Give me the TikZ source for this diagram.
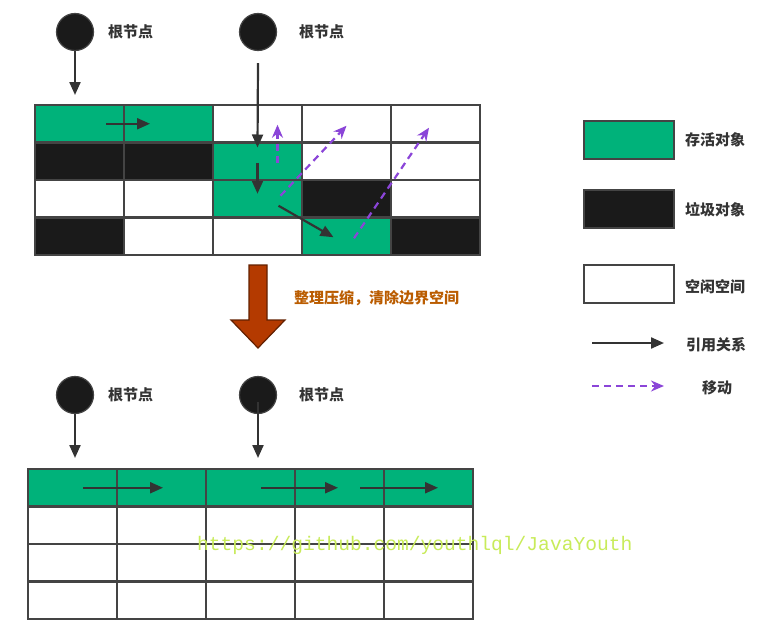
\documentclass[tikz,border=0pt]{standalone}
\usepackage{fontspec}
\usepackage{xcolor}
\usetikzlibrary{arrows.meta}
\newfontfamily\cjk{Noto Sans CJK SC}
\newfontfamily\wmfont{Liberation Mono}

\definecolor{live}{HTML}{00B27A}
\definecolor{dead}{HTML}{1A1A1A}
\definecolor{edge}{HTML}{444444}
\definecolor{arrowc}{HTML}{333333}
\definecolor{movec}{HTML}{8B45D8}
\definecolor{txt}{HTML}{333333}
\definecolor{bigfill}{HTML}{B43A00}
\definecolor{bigtext}{HTML}{BA5C00}
\definecolor{wm}{HTML}{C8EB5A}

\tikzset{
    cell/.style={draw=edge,line width=2.4pt,minimum width=89pt,minimum height=37.5pt,inner sep=0pt,outer sep=0pt},
    keybox/.style={draw=edge,line width=2.4pt,minimum width=90pt,minimum height=38pt,inner sep=0pt},
    root/.style={circle,fill=dead,draw=edge,line width=1.2pt,minimum size=37pt,inner sep=0pt},
    cjklabel/.style={font=\cjk\bfseries\fontsize{15}{18}\selectfont,text=txt,inner sep=0pt,anchor=west},
    ref/.style={draw=arrowc,line width=2.2pt,-{Triangle[length=13pt,width=11pt]}},
    move/.style={draw=movec,line width=2.2pt,dash pattern=on 7pt off 5pt,-{Stealth[length=13pt,width=11pt]}}
}

\begin{document}
\begin{tikzpicture}[x=1pt,y=-1pt]
    \useasboundingbox (0,0) rectangle (765,626);

    % heap before compaction
    \foreach \row [count=\r from 0] in {{live,live,white,white,white},{dead,dead,live,white,white},{white,white,live,dead,white},{dead,white,white,live,dead}}
        \foreach \c [count=\k from 0] in \row
            \node[cell,fill=\c] (t\r\k) at (79.5+89*\k,123.75+37.5*\r) {};

    \node[root] (root1) at (75,32) {};
    \node[root] (root2) at (258,32) {};
    \node[cjklabel] (lab1) at (108,32) {根节点};
    \node[cjklabel] (lab2) at (299,32) {根节点};

    \draw[ref] (root1.south) -- ([yshift=10pt]root1.south |- t00.north);
    \draw[ref] ([yshift=-12pt]root2.south) -- ([yshift=-5pt]t12.north);
    \draw[ref] ([xshift=-18pt]t00.east) -- ([xshift=26pt]t01.west);
    \draw[ref] ([yshift=-1.5pt]t12.center) -- ([yshift=5pt]t22.center);
    \draw[ref] ([shift={(21pt,-7pt)}]t22.center) -- ([xshift=-13pt,yshift=-1pt]t33.center);

    \draw[move] ([xshift=20pt,yshift=-1.5pt]t12.center) -- ([xshift=20pt,yshift=-1pt]t02.center);
    \draw[move] ([shift={(23pt,3pt)}]t22.center) -- ([yshift=-2pt]t03.center);
    \draw[move] ([shift={(7.5pt,-2pt)}]t33.center) -- ([shift={(-6.5pt,-4pt)}]t04.center);

    % compaction
    \draw[draw=bigfill!55!black,line width=1.2pt,fill=bigfill] (249,265) -- (267,265) -- (267,320) -- (285,320) -- (258,348) -- (231,320) -- (249,320) -- cycle;
    \node[cjklabel,text=bigtext] (step) at (294,298) {整理压缩，清除边界空间};

    % heap after compaction
    \foreach \row [count=\r from 0] in {{live,live,live,live,live},{white,white,white,white,white},{white,white,white,white,white},{white,white,white,white,white}}
        \foreach \c [count=\k from 0] in \row
            \node[cell,fill=\c] (b\r\k) at (72.5+89*\k,487.75+37.5*\r) {};

    \node[root] (root3) at (75,395) {};
    \node[root] (root4) at (258,395) {};
    \node[cjklabel] (lab3) at (108,395) {根节点};
    \node[cjklabel] (lab4) at (299,395) {根节点};

    \draw[ref] (root3.south) -- ([yshift=11pt]root3.south |- b00.north);
    \draw[ref] ([yshift=-7pt]root4.center) -- ([yshift=11pt]root4.center |- b02.north);
    \draw[ref] ([xshift=10.5pt]b00.center) -- ([xshift=1.5pt]b01.center);
    \draw[ref] ([xshift=10.5pt]b02.center) -- ([xshift=-1.5pt]b03.center);
    \draw[ref] ([xshift=20.5pt]b03.center) -- ([xshift=9.5pt]b04.center);

    % legend
    \node[keybox,fill=live] (keylive) at (629,140) {};
    \node[keybox,fill=dead] (keydead) at (629,209) {};
    \node[keybox,fill=white] (keyfree) at (629,284) {};
    \node[cjklabel] (txtlive) at (685,140) {存活对象};
    \node[cjklabel] (txtdead) at (685,210) {垃圾对象};
    \node[cjklabel] (txtfree) at (685,287) {空闲空间};
    \coordinate (refA) at (592,343);
    \coordinate (refB) at (664,343);
    \coordinate (movA) at (592,386);
    \coordinate (movB) at (664,386);
    \draw[ref] (refA) -- (refB);
    \draw[move] (movA) -- (movB);
    \node[cjklabel] (txtref) at (686,345) {引用关系};
    \node[cjklabel] (txtmov) at (702,388) {移动};

    \node[font=\wmfont\fontsize{19.6}{22}\selectfont,text=wm,anchor=west,inner sep=0pt] (wmark) at (197,545) {https://github.com/youthlql/JavaYouth};
\end{tikzpicture}
\end{document}
